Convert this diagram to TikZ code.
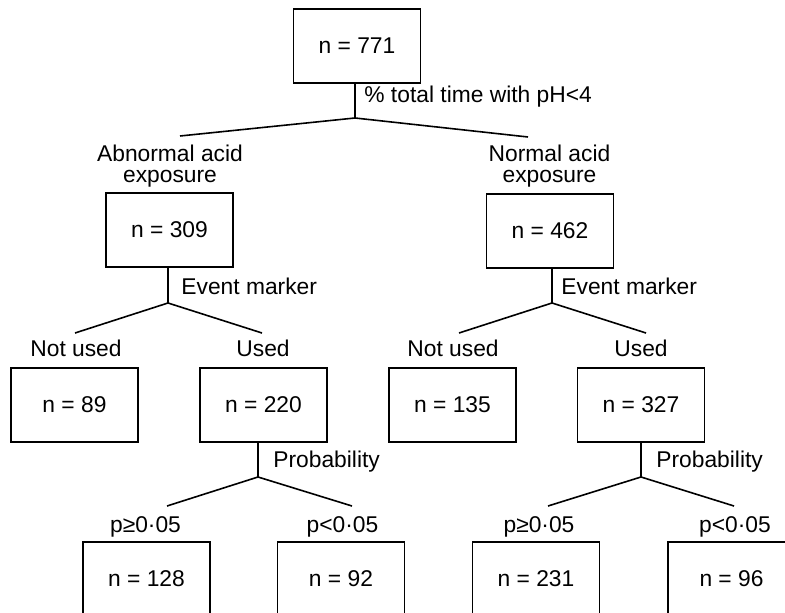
\documentclass[tikz,border=0pt]{standalone}
\usepackage{fontspec}
\setmainfont{Liberation Sans}
\usepackage{tikz}

\begin{document}
\begin{tikzpicture}[x=0.5pt, y=-0.5pt,
  box/.style={draw, line width=0.9pt, minimum width=63.5pt, minimum height=37pt, inner sep=0pt, font=\fontsize{11.4}{13}\selectfont},
  lbl/.style={inner sep=0pt, font=\fontsize{11.4}{10.4}\selectfont, align=center},
  branch/.style={line width=0.8pt}]
\useasboundingbox (0,0) rectangle (785,613);
\clip (0,0) rectangle (785,613);
\node[box] (all) at (357,46) {n = 771};
\node[box] (abn) at (169.5,230) {n = 309};
\node[box] (nor) at (550,231) {n = 462};
\node[box] (abnno) at (74.5,405) {n = 89};
\node[box] (abnyes) at (263.5,405) {n = 220};
\node[box] (norno) at (452.5,405) {n = 135};
\node[box] (noryes) at (641,405) {n = 327};
\node[box] (abnhi) at (146.5,579) {n = 128};
\node[box] (abnlo) at (341,579) {n = 92};
\node[box] (norhi) at (536,579) {n = 231};
\node[box] (norlo) at (731.5,579) {n = 96};
\node[lbl, anchor=base west] (allq) at (364,103) {\% total time with pH<4};
\node[lbl] (abnlbl) at (170,166) {Abnormal acid\\exposure};
\node[lbl] (norlbl) at (549.5,166) {Normal acid\\exposure};
\node[lbl, anchor=base west] (abnq) at (181,295) {Event marker};
\node[lbl, anchor=base west] (norq) at (561,295) {Event marker};
\node[lbl, anchor=base] (abnnolbl) at (76,357) {Not used};
\node[lbl, anchor=base] (abnyeslbl) at (263,357) {Used};
\node[lbl, anchor=base] (nornolbl) at (453,357) {Not used};
\node[lbl, anchor=base] (noryeslbl) at (641,357) {Used};
\node[lbl, anchor=base west] (abnyesq) at (273,467) {Probability};
\node[lbl, anchor=base west] (noryesq) at (656,467) {Probability};
\node[lbl, anchor=base] (abnhilbl) at (145.5,532) {p≥0·05};
\node[lbl, anchor=base] (abnlolbl) at (342.5,532) {p<0·05};
\node[lbl, anchor=base] (norhilbl) at (539,532) {p≥0·05};
\node[lbl, anchor=base] (norlolbl) at (735,532) {p<0·05};
\coordinate (allfork) at (355,118);
\coordinate (allL) at (180,136);
\coordinate (allR) at (528,137);
\coordinate (abnfork) at (168,303);
\coordinate (abnL) at (75,333);
\coordinate (abnR) at (262,333);
\coordinate (norfork) at (552,303);
\coordinate (norL) at (459,333);
\coordinate (norR) at (646,333);
\coordinate (abnyesfork) at (258,477);
\coordinate (abnyesL) at (167,506);
\coordinate (abnyesR) at (352,506);
\coordinate (noryesfork) at (641,477);
\coordinate (noryesL) at (548,506);
\coordinate (noryesR) at (734,506);
\draw[branch] (all.south -| allfork) -- (allfork);
\draw[branch] (allL) -- (allfork) -- (allR);
\draw[branch] (abn.south -| abnfork) -- (abnfork);
\draw[branch] (abnL) -- (abnfork) -- (abnR);
\draw[branch] (nor.south -| norfork) -- (norfork);
\draw[branch] (norL) -- (norfork) -- (norR);
\draw[branch] (abnyes.south -| abnyesfork) -- (abnyesfork);
\draw[branch] (abnyesL) -- (abnyesfork) -- (abnyesR);
\draw[branch] (noryes.south -| noryesfork) -- (noryesfork);
\draw[branch] (noryesL) -- (noryesfork) -- (noryesR);
\end{tikzpicture}
\end{document}
